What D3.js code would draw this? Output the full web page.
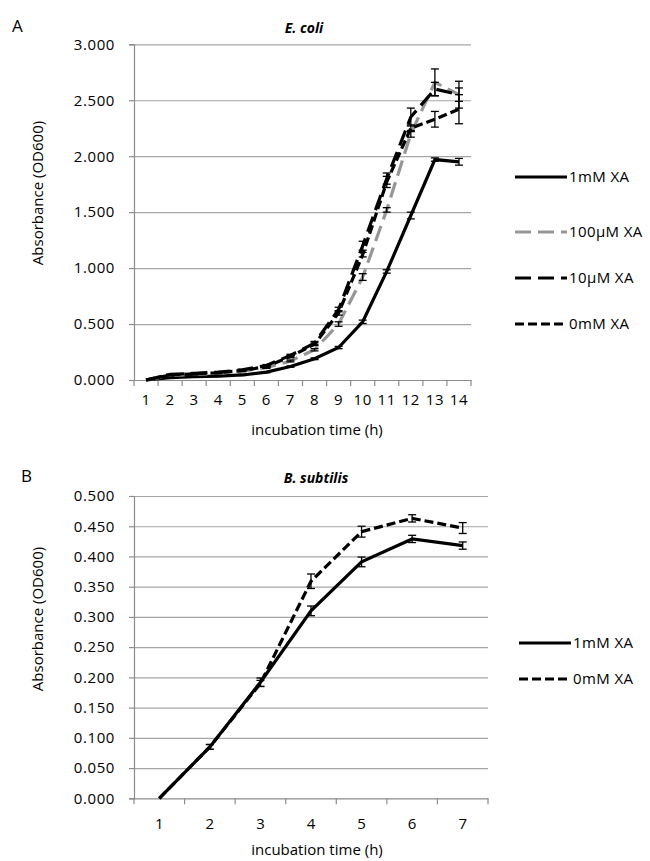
<!DOCTYPE html>
<html>
<head>
<meta charset="utf-8">
<script src="https://cdn.jsdelivr.net/npm/d3@7"></script>
<style>
  body { margin: 0; background: #fff; }
  text { font-family: "Open Sans", sans-serif; fill: #000; }
  .tick text { font-size: 15px; letter-spacing: 0.6px; }
  .grid line { stroke: #a6a6a6; stroke-width: 1.2; }
  .axis path, .axis line { stroke: #8c8c8c; stroke-width: 1.2; }
  .title { font-size: 14px; font-weight: bold; font-style: italic; text-anchor: middle; }
  .label { font-size: 15px; text-anchor: middle; }
  .legend_text { font-size: 15px; letter-spacing: 0.4px; }
</style>
</head>
<body>
<div id="plot"></div>
<script>
// E. coli data (panel A)
const hoursA = [1,2,3,4,5,6,7,8,9,10,11,12,13,14];
const ecoli1mM   = [0, 0.020, 0.030, 0.035, 0.045, 0.070, 0.120, 0.190, 0.290, 0.520, 0.970, 1.470, 1.970, 1.950];
const ecoli1mMErr   = [0, 0.004, 0.004, 0.004, 0.005, 0.005, 0.006, 0.008, 0.010, 0.015, 0.015, 0.030, 0.015, 0.030];
const ecoli100uM = [0, 0.040, 0.050, 0.060, 0.080, 0.110, 0.170, 0.270, 0.500, 0.920, 1.520, 2.200, 2.660, 2.550];
const ecoli100uMErr = [0, 0.004, 0.004, 0.005, 0.005, 0.006, 0.008, 0.010, 0.020, 0.030, 0.020, 0.030, 0.120, 0.060];
const ecoli10uM  = [0, 0.050, 0.060, 0.070, 0.090, 0.130, 0.220, 0.330, 0.630, 1.200, 1.800, 2.350, 2.600, 2.550];
const ecoli10uMErr  = [0, 0.004, 0.005, 0.005, 0.006, 0.008, 0.010, 0.015, 0.020, 0.040, 0.050, 0.080, 0.060, 0.120];
const ecoli0mM   = [0, 0.045, 0.055, 0.065, 0.085, 0.120, 0.210, 0.320, 0.600, 1.120, 1.770, 2.250, 2.330, 2.420];
const ecoli0mMErr   = [0, 0.004, 0.005, 0.005, 0.006, 0.008, 0.010, 0.012, 0.020, 0.020, 0.050, 0.030, 0.070, 0.130];
const ticksA = [0, 0.5, 1.0, 1.5, 2.0, 2.5, 3.0];
const seriesNamesA = ["1mM XA", "100\u00b5M XA", "10\u00b5M XA", "0mM XA"];

// B. subtilis data (panel B)
const hoursB = [1,2,3,4,5,6,7];
const bsub1mM    = [0, 0.085, 0.192, 0.310, 0.391, 0.429, 0.418];
const bsub1mMErr    = [0, 0.004, 0.007, 0.008, 0.008, 0.006, 0.006];
const bsub0mM    = [0, 0.085, 0.190, 0.359, 0.441, 0.463, 0.447];
const bsub0mMErr    = [0, 0.004, 0.005, 0.012, 0.009, 0.006, 0.009];
const ticksB = [0,0.05,0.1,0.15,0.2,0.25,0.3,0.35,0.4,0.45,0.5];
const seriesNamesB = ["1mM XA", "0mM XA"];

const styles = {
    "1mM XA":      {color: "#000", dash: null},
    "100\u00b5M XA": {color: "#969696", dash: "16,7"},
    "10\u00b5M XA":  {color: "#000", dash: "16,7"},
    "0mM XA":      {color: "#000", dash: "9,4"}
};

var svg = d3.select("#plot").append("svg").attr("width", 650).attr("height", 861);

let drawPanel=function(cfg){
    var xScale = d3.scaleBand().domain(cfg.hours).range([cfg.left, cfg.right]);
    var yScale = d3.scaleLinear().domain([0, cfg.ymax]).range([cfg.bottom, cfg.top]);
    var cx = d => xScale(d) + xScale.bandwidth()/2;
    var width = cfg.right - cfg.left;

    // gridlines
    svg.append("g").attr("class","grid").attr("transform","translate("+cfg.left+",0)")
        .call(d3.axisLeft(yScale).tickValues(cfg.ticks.slice(1)).tickSize(-width).tickFormat(""))
        .call(g=>g.select(".domain").remove());

    // y axis
    svg.append("g").attr("class","axis").attr("transform","translate("+cfg.left+",0)")
        .call(d3.axisLeft(yScale).tickValues(cfg.ticks).tickSize(5).tickPadding(14).tickFormat(d3.format(".3f")));

    // x axis: labels at category centres, tick marks on the boundaries
    var xAxis = svg.append("g").attr("class","axis").attr("transform","translate(0,"+cfg.bottom+")")
        .call(d3.axisBottom(xScale).tickSize(0).tickPadding(cfg.xpad));
    xAxis.selectAll(".tick text").style("letter-spacing", cfg.xspacing);
    var bounds = cfg.hours.map(d=>xScale(d)).concat([cfg.right]);
    xAxis.selectAll("line.bound").data(bounds).enter().append("line")
        .attr("x1", d=>d).attr("x2", d=>d).attr("y1", 0).attr("y2", 6);

    // lines
    var line = d3.line().x((d,i)=>cx(cfg.hours[i])).y(d=>yScale(d));
    cfg.series.forEach(function(s){
        var st = styles[s.name];
        svg.append("path").datum(s.values)
            .attr("d", line)
            .attr("fill","none")
            .attr("stroke", st.color)
            .attr("stroke-width", 3.2)
            .attr("stroke-dasharray", st.dash);
    });

    // error bars
    cfg.series.forEach(function(s){
        var g = svg.append("g").attr("stroke","#000").attr("stroke-width",1.3);
        s.values.forEach(function(v,i){
            var e = s.err[i];
            if(!e) return;
            var x = cx(cfg.hours[i]);
            g.append("line").attr("x1",x).attr("x2",x).attr("y1",yScale(v-e)).attr("y2",yScale(v+e));
            g.append("line").attr("x1",x-4).attr("x2",x+4).attr("y1",yScale(v-e)).attr("y2",yScale(v-e));
            g.append("line").attr("x1",x-4).attr("x2",x+4).attr("y1",yScale(v+e)).attr("y2",yScale(v+e));
        });
    });

    // legend
    cfg.series.forEach(function(s,i){
        var st = styles[s.name];
        var ly = cfg.legendY[i];
        svg.append("line").attr("x1",cfg.legendX).attr("x2",cfg.legendX+52).attr("y1",ly).attr("y2",ly)
            .attr("stroke",st.color).attr("stroke-width",3.2).attr("stroke-dasharray",st.dash);
        svg.append("text").attr("class","legend_text").attr("x",cfg.legendX+54).attr("y",ly+5).text(s.name);
    });

    // titles
    svg.append("text").attr("x", cfg.letterX).attr("y", cfg.letterY).style("font-size","17px").text(cfg.letter);
    svg.append("text").attr("class","title").attr("x", cfg.titleX).attr("y", cfg.titleY).text(cfg.title);
    svg.append("text").attr("class","label").attr("x", 317).attr("y", cfg.xlabelY).text("incubation time (h)");
    svg.append("text").attr("class","label").attr("transform","translate(43,"+cfg.ylabelY+") rotate(-90)").text("Absorbance (OD600)");
}

drawPanel({
    hours: hoursA, ymax: 3, ticks: ticksA,
    left: 134, right: 471, top: 44.3, bottom: 380,
    xpad: 14, xspacing: "0.6px",
    series: [
        {name: seriesNamesA[0], values: ecoli1mM, err: ecoli1mMErr},
        {name: seriesNamesA[1], values: ecoli100uM, err: ecoli100uMErr},
        {name: seriesNamesA[2], values: ecoli10uM, err: ecoli10uMErr},
        {name: seriesNamesA[3], values: ecoli0mM, err: ecoli0mMErr}
    ],
    legendX: 515, legendY: [177, 232, 278, 324],
    letter: "A", letterX: 12, letterY: 32,
    title: "E. coli", titleX: 304, titleY: 33,
    xlabelY: 435, ylabelY: 193
});

drawPanel({
    hours: hoursB, ymax: 0.5, ticks: ticksB,
    left: 134, right: 488, top: 496, bottom: 798.3,
    xpad: 20, xspacing: "0px",
    series: [
        {name: seriesNamesB[0], values: bsub1mM, err: bsub1mMErr},
        {name: seriesNamesB[1], values: bsub0mM, err: bsub0mMErr}
    ],
    legendX: 519, legendY: [643, 679],
    letter: "B", letterX: 21, letterY: 482,
    title: "B. subtilis", titleX: 316, titleY: 483,
    xlabelY: 855, ylabelY: 619
});
</script>
</body>
</html>
